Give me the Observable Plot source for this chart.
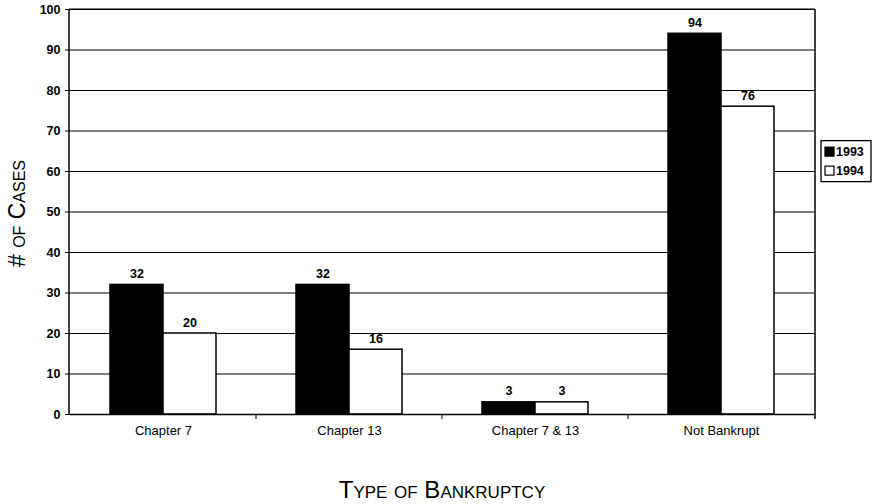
<!DOCTYPE html>
<html><head><meta charset="utf-8">
<script src="https://cdn.jsdelivr.net/npm/d3@7"></script>
<script src="https://cdn.jsdelivr.net/npm/@observablehq/plot@0.6"></script>
<style>
body{margin:0;background:#fff;}
</style></head><body><div id="chart"></div>
<script>
const categories = ["Chapter 7", "Chapter 13", "Chapter 7 & 13", "Not Bankrupt"];
const years = ["1993", "1994"];
const values1993 = [32, 32, 3, 94];
const values1994 = [20, 16, 3, 76];
const yTicks = [0, 10, 20, 30, 40, 50, 60, 70, 80, 90, 100];
const xTitle = "Type of Bankruptcy";
const yTitle = "# of Cases";

(function () {
const data = categories.flatMap((c, i) => [
  {category: c, year: years[0], value: values1993[i]},
  {category: c, year: years[1], value: values1994[i]}
]);

const font = "'Liberation Sans', Arial, sans-serif";

const chart = Plot.plot({
  width: 878, height: 504,
  marginLeft: 69, marginRight: 63, marginTop: 9, marginBottom: 90,
  style: {fontFamily: font, fontSize: "11px", color: "#000", background: "#fff"},
  fx: {domain: categories, padding: 0, label: null},
  x: {domain: years, paddingInner: 0, paddingOuter: 0.73, axis: null},
  y: {domain: [0, 100], label: null},
  color: {domain: years, range: ["#000", "#fff"]},
  marks: [
    Plot.gridY(yTicks, {stroke: "#000", strokeOpacity: 1, strokeWidth: 1.2}),
    Plot.barY(data, {fx: "category", x: "year", y: "value", fill: "year", stroke: "#000", strokeWidth: 1.5}),
    Plot.text(data, {fx: "category", x: "year", y: "value", text: d => String(d.value), lineAnchor: "bottom", dy: -7, fontWeight: "bold", fontSize: 12.5, fill: "#000"}),
    Plot.axisY(yTicks, {tickSize: 5, tickPadding: 5, fontWeight: "bold", fontSize: 12.5, label: null, stroke: "#000"}),
    Plot.axisFx({anchor: "bottom", tickSize: 0, tickPadding: 11, label: null, fontSize: 13}),
    Plot.ruleY([0], {stroke: "#000", strokeWidth: 1.5})
  ]
});

const svg = d3.select(chart);
const fx = chart.scale("fx");
const y = chart.scale("y");
const pLeft = fx.range[0], pRight = fx.range[1];
const pTop = y.apply(100), pBottom = y.apply(0);
const g = svg.append("g").attr("stroke", "#000").attr("stroke-width", 1.5);
g.append("line").attr("x1", pLeft).attr("x2", pLeft).attr("y1", pTop).attr("y2", pBottom);
g.append("line").attr("x1", pRight).attr("x2", pRight).attr("y1", pTop).attr("y2", pBottom + 5);
g.append("line").attr("x1", pLeft).attr("x2", pRight).attr("y1", pTop).attr("y2", pTop).attr("stroke-width", 1.2);
categories.slice(1).forEach(c => {
  const x = fx.apply(c);
  g.append("line").attr("x1", x).attr("x2", x).attr("y1", pBottom).attr("y2", pBottom + 5).attr("stroke-width", 1);
});

// Legend
const lg = svg.append("g").attr("transform", `translate(${pRight + 6},${y.apply(67.5)})`);
lg.append("rect").attr("x", 0).attr("y", 0).attr("width", 50).attr("height", 41).attr("fill", "#fff").attr("stroke", "#000").attr("stroke-width", 1.3);
years.forEach((yr, i) => {
  const row = lg.append("g").attr("transform", `translate(4,${11 + i * 19})`);
  row.append("rect").attr("x", 0).attr("y", -4.5).attr("width", 9).attr("height", 9).attr("fill", i === 0 ? "#000" : "#fff").attr("stroke", "#000").attr("stroke-width", 1.2);
  row.append("text").attr("x", 11).attr("y", 0).attr("dy", "0.35em").attr("text-anchor", "start")
    .attr("font-family", font).attr("font-size", 12.5).attr("font-weight", "bold").attr("fill", "#000").text(yr);
});

// Axis titles
svg.append("text").attr("x", (pLeft + pRight) / 2).attr("y", 498).attr("text-anchor", "middle")
  .attr("font-family", font).attr("font-size", 24).style("font-variant", "small-caps").attr("fill", "#000").text(xTitle);
svg.append("text").attr("transform", `translate(25,${(pTop + pBottom) / 2 + 2}) rotate(-90)`).attr("text-anchor", "middle")
  .attr("font-family", font).attr("font-size", 23).style("font-variant", "small-caps").attr("fill", "#000").text(yTitle);

document.getElementById("chart").appendChild(chart);
})();
</script>
</body></html>
